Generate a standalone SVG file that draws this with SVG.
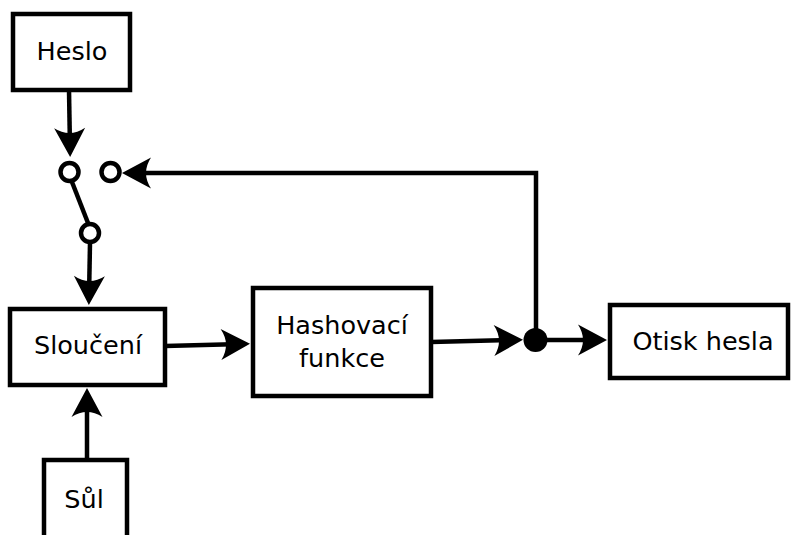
<svg xmlns="http://www.w3.org/2000/svg" width="795" height="535" viewBox="0 0 795 535">
<style>
.box{fill:#fff;stroke:#000;stroke-width:4.5}
.lbl{font-family:"DejaVu Sans",sans-serif;font-size:25.5px;fill:#000;text-anchor:middle}
.wire{fill:none;stroke:#000;stroke-width:4.5}
.term{fill:#fff;stroke:#000;stroke-width:4.5}
</style>
<defs>
<marker id="arr" markerUnits="userSpaceOnUse" markerWidth="32" markerHeight="34" refX="21" refY="16" orient="auto" overflow="visible">
<path d="M29,16 L0,0.5 Q10,16 0,31.5 Z" fill="#000"/>
</marker>
</defs>
<rect width="795" height="535" fill="#fff"/>
<g id="heslo"><rect class="box" x="13" y="14" width="117" height="76"/><text class="lbl" x="72" y="60">Heslo</text></g>
<g id="slouceni"><rect class="box" x="10" y="309" width="155" height="76"/><text class="lbl" x="88" y="354">Sloučení</text></g>
<g id="hash"><rect class="box" x="253" y="288" width="178" height="108"/><text class="lbl" x="342" y="334">Hashovací</text><text class="lbl" x="342" y="367">funkce</text></g>
<g id="otisk"><rect class="box" x="610" y="305" width="178" height="73"/><text class="lbl" x="703" y="350">Otisk hesla</text></g>
<g id="sul"><rect class="box" x="44" y="460" width="83" height="100"/><text class="lbl" x="84" y="508">Sůl</text></g>
<g id="switch">
<line class="wire" x1="72" y1="182" x2="88" y2="223" stroke-width="3.5"/>
<circle class="term" cx="69.5" cy="172" r="9"/>
<circle class="term" cx="110.5" cy="172" r="9"/>
<circle class="term" cx="90" cy="233" r="9"/>
</g>
<g id="connectors">
<line class="wire" x1="69" y1="90" x2="70" y2="149" marker-end="url(#arr)"/>
<polyline class="wire" points="536,340 536,173 130,173" marker-end="url(#arr)"/>
<line class="wire" x1="90" y1="243" x2="89" y2="297" marker-end="url(#arr)"/>
<line class="wire" x1="87" y1="458" x2="87" y2="396" marker-end="url(#arr)"/>
<line class="wire" x1="165" y1="346" x2="242" y2="344" marker-end="url(#arr)"/>
<line class="wire" x1="431" y1="342" x2="515" y2="340" marker-end="url(#arr)"/>
<line class="wire" x1="536" y1="340" x2="599" y2="340" marker-end="url(#arr)"/>
<circle cx="535.5" cy="340" r="12" fill="#000"/>
</g>
</svg>
